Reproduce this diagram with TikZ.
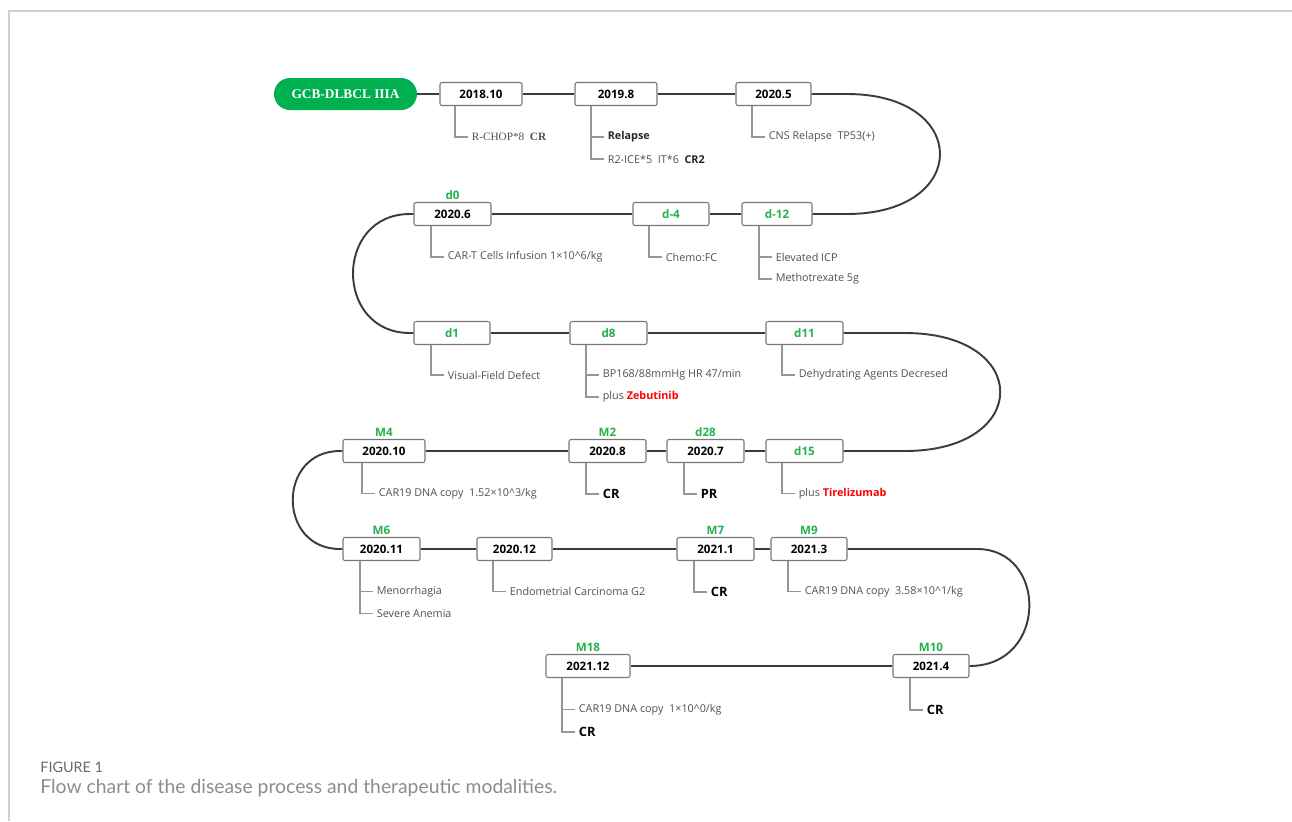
\documentclass[tikz,border=0pt]{standalone}
\usepackage{fontspec}
\setmainfont{Open Sans}
\newfontfamily\serifrm{Liberation Serif}
\newfontfamily\capfont{Lato}
\usepackage{xcolor}
\usetikzlibrary{positioning}
\definecolor{pillgreen}{RGB}{0,176,80}
\definecolor{labgreen}{RGB}{34,177,76}
\definecolor{boxgray}{RGB}{120,120,120}
\definecolor{linegray}{RGB}{60,60,60}
\definecolor{brgray}{RGB}{150,150,150}
\definecolor{txtgray}{RGB}{80,80,80}
\definecolor{framegray}{RGB}{208,208,208}
\definecolor{figgray}{RGB}{105,105,105}
\definecolor{capgray}{RGB}{140,140,140}

\begin{document}
\begin{tikzpicture}[
  datebox/.style={draw=boxgray, line width=0.6pt, rounded corners=0.04cm, fill=white, minimum height=0.46cm, minimum width=1.54cm, inner sep=0pt, font=\fontsize{6.6}{7}\selectfont\bfseries},
  daylab/.style={text=labgreen, inner sep=0pt, font=\fontsize{6.6}{7}\selectfont\bfseries},
  pill/.style={fill=pillgreen, text=white, rounded corners=0.32cm, minimum width=2.86cm, minimum height=0.64cm, inner sep=0pt, font=\serifrm\fontsize{7.6}{8}\selectfont\bfseries},
  ln/.style={draw=linegray, line width=1.1pt},
  br/.style={draw=brgray, line width=0.6pt},
  txt/.style={anchor=west, inner xsep=0.07cm, inner ysep=0pt, text=txtgray, font=\fontsize{6.15}{7}\selectfont},
  res/.style={anchor=west, inner xsep=0.07cm, inner ysep=0pt, font=\fontsize{7.3}{8}\selectfont\bfseries}
]
\useasboundingbox (0,0) rectangle (25.84,-16.42);
\draw[framegray, line width=1pt] (25.84,-0.22) -- (0.18,-0.22) -- (0.18,-16.42);

% row 1
\node[pill] (gcb) at (6.91,-1.88) {GCB-DLBCL IIIA};
\node[datebox, minimum width=1.64cm] (y18) at (9.62,-1.88) {2018.10};
\node[datebox, minimum width=1.64cm] (y19) at (12.32,-1.88) {2019.8};
\node[datebox, minimum width=1.5cm] (y20) at (15.47,-1.88) {2020.5};
% row 2
\node[datebox] (b206) at (9.05,-4.28) {2020.6};
\node[datebox, minimum width=1.52cm, text=labgreen] (dm4) at (13.42,-4.28) {d-4};
\node[datebox, minimum width=1.4cm, text=labgreen] (dm12) at (15.54,-4.28) {d-12};
% row 3
\node[datebox, minimum width=1.52cm, text=labgreen] (dd1) at (9.04,-6.66) {d1};
\node[datebox, text=labgreen] (dd8) at (12.17,-6.66) {d8};
\node[datebox, text=labgreen] (dd11) at (16.09,-6.66) {d11};
% row 4
\node[datebox, minimum width=1.64cm] (b2010) at (7.68,-9.02) {2020.10};
\node[datebox] (b2008) at (12.15,-9.02) {2020.8};
\node[datebox] (b2007) at (14.11,-9.02) {2020.7};
\node[datebox, text=labgreen] (dd15) at (16.09,-9.02) {d15};
% row 5
\node[datebox] (b2011) at (7.63,-10.98) {2020.11};
\node[datebox, minimum width=1.5cm] (b2012) at (10.29,-10.98) {2020.12};
\node[datebox] (b2101) at (14.31,-10.98) {2021.1};
\node[datebox, minimum width=1.52cm] (b2103) at (16.18,-10.98) {2021.3};
% row 6
\node[datebox, minimum width=1.68cm] (b2112) at (11.76,-13.32) {2021.12};
\node[datebox, minimum width=1.52cm] (b2104) at (18.62,-13.32) {2021.4};

% green day / month marks
\node[daylab, above=0.04cm of b206] (l206) {d0};
\node[daylab, above=0.04cm of b2010] (l2010) {M4};
\node[daylab, above=0.04cm of b2008] (l2008) {M2};
\node[daylab, above=0.04cm of b2007] (l2007) {d28};
\node[daylab, above=0.04cm of b2011] (l2011) {M6};
\node[daylab, above=0.04cm of b2101] (l2101) {M7};
\node[daylab, above=0.04cm of b2103] (l2103) {M9};
\node[daylab, above=0.04cm of b2112] (l2112) {M18};
\node[daylab, above=0.04cm of b2104] (l2104) {M10};

% time line
\draw[ln] (gcb) -- (y18) -- (y19) -- (y20);
\draw[ln] (y20.east) -- (16.94,-1.88) .. controls (19.42,-1.88) and (19.42,-4.28) .. (16.94,-4.28) -- (dm12.east);
\draw[ln] (dm12) -- (dm4) -- (b206);
\draw[ln] (b206.west) -- (8.2,-4.28) .. controls (6.68,-4.28) and (6.68,-6.66) .. (8.2,-6.66) -- (dd1.west);
\draw[ln] (dd1) -- (dd8) -- (dd11);
\draw[ln] (dd11.east) -- (18.1,-6.66) .. controls (20.64,-6.66) and (20.64,-9.02) .. (18.1,-9.02) -- (dd15.east);
\draw[ln] (dd15) -- (b2007) -- (b2008) -- (b2010);
\draw[ln] (b2010.west) -- (6.8,-9.02) .. controls (5.54,-9.02) and (5.54,-10.98) .. (6.8,-10.98) -- (b2011.west);
\draw[ln] (b2011) -- (b2012) -- (b2101) -- (b2103);
\draw[ln] (b2103.east) -- (19.54,-10.98) .. controls (20.96,-10.98) and (20.96,-13.32) .. (b2104.east);
\draw[ln] (b2104) -- (b2112);

% notes
\node[txt, font=\serifrm\fontsize{6.4}{7}\selectfont] (t1) at (9.36,-2.74) {R-CHOP*8\ \ \textbf{CR}};
\node[txt, font=\fontsize{6.15}{7}\selectfont\bfseries, text=black!85] (t2a) at (12.08,-2.74) {Relapse};
\node[txt] (t2b) at (12.08,-3.18) {R2-ICE*5\ \ IT*6\ \ \textbf{\color{black!85}CR2}};
\node[txt] (t3) at (15.3,-2.74) {CNS Relapse\ \ TP53(+)};
\node[txt] (t4) at (8.88,-5.14) {CAR-T Cells Infusion 1×10\textasciicircum{}6/kg};
\node[txt] (t5) at (13.24,-5.14) {Chemo:FC};
\node[txt] (t6a) at (15.44,-5.14) {Elevated ICP};
\node[txt] (t6b) at (15.44,-5.58) {Methotrexate 5g};
\node[txt] (t7) at (8.88,-7.5) {Visual-Field Defect};
\node[txt] (t8a) at (11.98,-7.5) {BP168/88mmHg HR 47/min};
\node[txt] (t8b) at (11.98,-7.94) {plus \textcolor{red}{\textbf{Zebutinib}}};
\node[txt] (t9) at (15.9,-7.5) {Dehydrating Agents Decresed};
\node[txt] (t10) at (7.5,-9.87) {CAR19 DNA copy\ \ 1.52×10\textasciicircum{}3/kg};
\node[res] (t11) at (11.98,-9.88) {CR};
\node[res] (t12) at (13.94,-9.88) {PR};
\node[txt] (t13) at (15.9,-9.87) {plus \textcolor{red}{\textbf{Tirelizumab}}};
\node[txt] (t14a) at (7.46,-11.83) {Menorrhagia};
\node[txt] (t14b) at (7.46,-12.27) {Severe Anemia};
\node[txt] (t15) at (10.12,-11.83) {Endometrial Carcinoma G2};
\node[res] (t16) at (14.14,-11.84) {CR};
\node[txt] (t17) at (16.02,-11.83) {CAR19 DNA copy\ \ 3.58×10\textasciicircum{}1/kg};
\node[txt] (t18a) at (11.5,-14.19) {CAR19 DNA copy\ \ 1×10\textasciicircum{}0/kg};
\node[res] (t18b) at (11.5,-14.64) {CR};
\node[res] (t19) at (18.46,-14.2) {CR};

% brackets from boxes to notes
\draw[br] (t1.west) -- ++(-0.26,0) coordinate (k1) -- (k1 |- y18.south);
\draw[br] (t2b.west) -- ++(-0.26,0) coordinate (k2) -- (k2 |- y19.south);
\draw[br] (t2a.west) -- ++(-0.26,0);
\draw[br] (t3.west) -- ++(-0.26,0) coordinate (k3) -- (k3 |- y20.south);
\draw[br] (t4.west) -- ++(-0.26,0) coordinate (k4) -- (k4 |- b206.south);
\draw[br] (t5.west) -- ++(-0.26,0) coordinate (k5) -- (k5 |- dm4.south);
\draw[br] (t6b.west) -- ++(-0.26,0) coordinate (k6) -- (k6 |- dm12.south);
\draw[br] (t6a.west) -- ++(-0.26,0);
\draw[br] (t7.west) -- ++(-0.26,0) coordinate (k7) -- (k7 |- dd1.south);
\draw[br] (t8b.west) -- ++(-0.26,0) coordinate (k8) -- (k8 |- dd8.south);
\draw[br] (t8a.west) -- ++(-0.26,0);
\draw[br] (t9.west) -- ++(-0.26,0) coordinate (k9) -- (k9 |- dd11.south);
\draw[br] (t10.west) -- ++(-0.26,0) coordinate (k10) -- (k10 |- b2010.south);
\draw[br] (t11.west) -- ++(-0.26,0) coordinate (k11) -- (k11 |- b2008.south);
\draw[br] (t12.west) -- ++(-0.26,0) coordinate (k12) -- (k12 |- b2007.south);
\draw[br] (t13.west) -- ++(-0.26,0) coordinate (k13) -- (k13 |- dd15.south);
\draw[br] (t14b.west) -- ++(-0.26,0) coordinate (k14) -- (k14 |- b2011.south);
\draw[br] (t14a.west) -- ++(-0.26,0);
\draw[br] (t15.west) -- ++(-0.26,0) coordinate (k15) -- (k15 |- b2012.south);
\draw[br] (t16.west) -- ++(-0.26,0) coordinate (k16) -- (k16 |- b2101.south);
\draw[br] (t17.west) -- ++(-0.26,0) coordinate (k17) -- (k17 |- b2103.south);
\draw[br] (t18b.west) -- ++(-0.26,0) coordinate (k18) -- (k18 |- b2112.south);
\draw[br] (t18a.west) -- ++(-0.26,0);
\draw[br] (t19.west) -- ++(-0.26,0) coordinate (k19) -- (k19 |- b2104.south);

% caption
\node[anchor=west, inner sep=0pt, text=figgray, font=\capfont\fontsize{8.2}{9}\selectfont] (fig) at (0.8,-15.34) {FIGURE 1};
\node[anchor=west, inner sep=0pt, text=capgray, font=\capfont\fontsize{11}{12}\selectfont] (cap) at (0.8,-15.76) {Flow chart of the disease process and therapeutic modalities.};
\end{tikzpicture}
\end{document}
